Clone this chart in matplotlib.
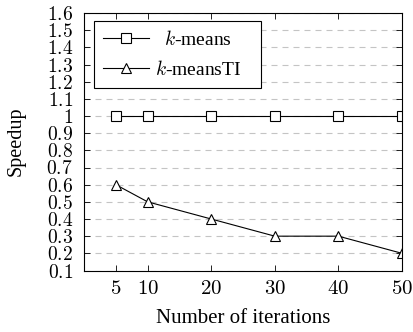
import matplotlib
matplotlib.use("Agg")
import matplotlib.pyplot as plt
from matplotlib.ticker import FixedLocator, FuncFormatter

plt.rcParams['font.family'] = ['Liberation Serif', 'DejaVu Serif']
plt.rcParams['mathtext.fontset'] = 'cm'

iterations = [5, 10, 20, 30, 40, 50]
kmeans = [1, 1, 1, 1, 1, 1]
kmeansTI = [0.6, 0.5, 0.4, 0.3, 0.3, 0.2]
yticks = [0.1, 0.2, 0.3, 0.4, 0.5, 0.6, 0.7, 0.8, 0.9, 1.0, 1.1, 1.2, 1.3, 1.4, 1.5, 1.6]
labels = ['$k$-means', '$k$-meansTI']

W, H = 414, 332
fig = plt.figure(figsize=(W / 100, H / 100), dpi=100)
ax = fig.add_axes([84 / W, 1 - 270.5 / H, (402 - 84) / W, (270.5 - 13) / H])

ax.plot(iterations, kmeans, color='black', lw=0.8, marker='s', ms=7,
        mfc='white', mec='black', mew=0.8, label=labels[0])
ax.plot(iterations, kmeansTI, color='black', lw=0.8, marker='^', ms=7,
        mfc='white', mec='black', mew=0.8, label=labels[1])

ax.set_xlim(0, 50)
ax.set_ylim(0.1, 1.6)
ax.xaxis.set_major_locator(FixedLocator(iterations))
ax.yaxis.set_major_locator(FixedLocator(yticks))
ax.xaxis.set_major_formatter(FuncFormatter(lambda v, p: f'${v:g}$'))
ax.yaxis.set_major_formatter(FuncFormatter(lambda v, p: f'${v:g}$'))
ax.tick_params(direction='in', top=True, right=True, length=4, width=0.6)
ax.tick_params(axis='y', pad=8, labelsize=14)
ax.tick_params(axis='x', pad=7, labelsize=15)
for s in ax.spines.values():
    s.set_linewidth(0.8)

ax.grid(axis='y', color='#c4c4c4', ls=(0, (5.4, 4.5)), lw=0.8)
ax.set_axisbelow(True)

ax.set_xlabel('Number of iterations', fontsize=15, labelpad=7)
ax.set_ylabel('Speedup', fontsize=14.5, labelpad=15)

leg_fs = 14
extra = 0.57  # extra right margin (em), text shifted back left by same amount
leg = ax.legend(loc='upper left', bbox_to_anchor=(94 / W, 1 - 21 / H),
                bbox_transform=fig.transFigure, borderaxespad=0,
                fontsize=leg_fs, frameon=True, fancybox=False,
                edgecolor='black', framealpha=1, handlelength=2.37,
                handletextpad=0.3 + extra, borderpad=0.45, labelspacing=0.58)
leg.get_frame().set_linewidth(0.8)

fig.canvas.draw()
r = fig.canvas.get_renderer()
shift = extra * leg_fs * fig.dpi / 72
w0 = leg.texts[0].get_window_extent(r).width
w1 = leg.texts[1].get_window_extent(r).width
leg.texts[0].set_x((w1 - w0) / 2 - shift)
leg.texts[1].set_x(-shift)

fig.savefig('out.png', dpi=100)
